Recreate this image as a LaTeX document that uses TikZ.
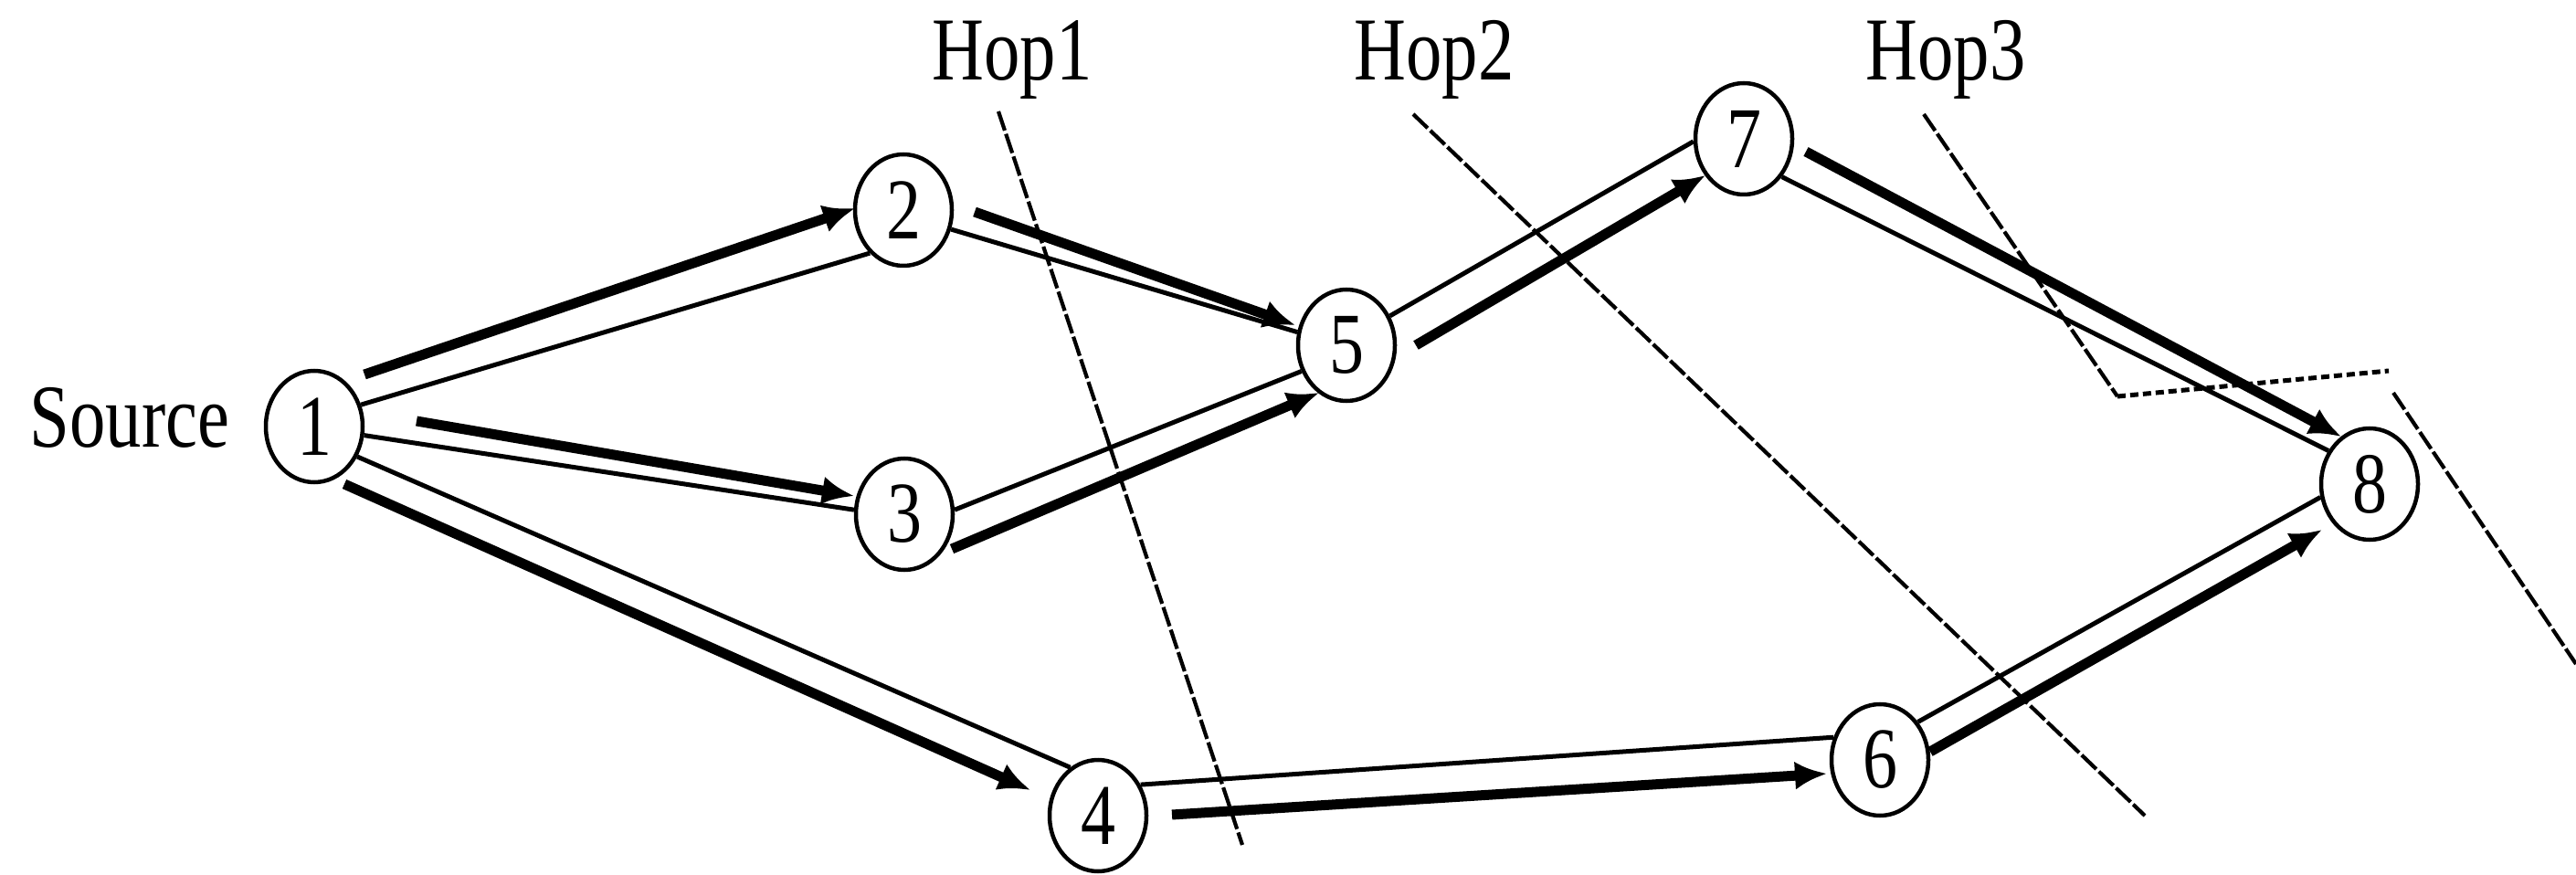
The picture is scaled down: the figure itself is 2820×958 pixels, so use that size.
\documentclass[tikz,border=0pt]{standalone}
\usepackage{fontspec}
\setmainfont{Liberation Serif}[FakeStretch=0.8]
\usetikzlibrary{arrows.meta,shapes.geometric}
\tikzset{
  vtx/.style={ellipse, draw, line width=0.45mm, minimum width=10.6mm, minimum height=12.2mm, inner sep=0pt, font=\fontsize{27}{30}\selectfont},
  lbl/.style={inner sep=0pt, font=\fontsize{28}{32}\selectfont},
  link/.style={line width=0.5mm},
  flowarrow/.style={line width=1.1mm, -{Latex[length=3.5mm,width=3.1mm]}},
  hopline/.style={line width=0.42mm, dash pattern=on 2.2mm off 0.4mm},
  hopdash/.style={line width=0.5mm, dash pattern=on 0.9mm off 0.5mm}
}
\begin{document}
\begin{tikzpicture}[x=0.1mm,y=-0.1mm]
\useasboundingbox (0,0) rectangle (2820,958);
% vertices
\node[vtx] (n1) at (344,467) {1};
\node[vtx] (n2) at (989,230) {2};
\node[vtx] (n3) at (990,563) {3};
\node[vtx] (n4) at (1202,893) {4};
\node[vtx] (n5) at (1474,378) {5};
\node[vtx] (n6) at (2058,832) {6};
\node[vtx] (n7) at (1909,152) {7};
\node[vtx] (n8) at (2594,530) {8};
% labels
\node[lbl, anchor=base east] (src) at (252,490) {Source};
\node[lbl, anchor=base] (hop1) at (1108,88) {Hop1};
\node[lbl, anchor=base] (hop2) at (1570,88) {Hop2};
\node[lbl, anchor=base] (hop3) at (2130,88) {Hop3};
% hop boundaries
\coordinate (h1a) at (1093,122);
\coordinate (h1b) at (1360,925);
\coordinate (h2a) at (1547,125);
\coordinate (h2b) at (2348,893);
\coordinate (h3a) at (2106,125);
\coordinate (h3c) at (2318,434);
\coordinate (h3d) at (2615,406);
\coordinate (h3e) at (2620,430);
\coordinate (h3f) at (2820,727);
\draw[hopline] (h1a) -- (h1b);
\draw[hopline] (h2a) -- (h2b);
\draw[hopline] (h3a) -- (h3c);
\draw[hopdash] (h3c) -- (h3d);
\draw[hopline] (h3e) -- (h3f);
% links
\draw[link] (n1.25) -- (n2.232);
\draw[link] (n1.-10) -- (n3.175);
\draw[link] (n1.-35) -- (n4.120);
\draw[link] (n2.-22) -- (n5.165);
\draw[link] (n3.5) -- (n5.210);
\draw[link] (n5.34) -- (n7.183);
\draw[link] (n7.-45) -- (n8.141);
\draw[link] (n4.36) -- (n6.154);
\draw[link] (n6.45) -- (n8.195);
% flows
\draw[flowarrow] ([shift={(55,-57)}]n1.center) -- ([shift={(-53,-2)}]n2.center);
\draw[flowarrow] ([shift={(112,-6)}]n1.center) -- ([shift={(-55,-20)}]n3.center);
\draw[flowarrow] ([shift={(33,63)}]n1.center) -- ([shift={(-74,-28)}]n4.center);
\draw[flowarrow] ([shift={(78,2)}]n2.center) -- ([shift={(-56,-22)}]n5.center);
\draw[flowarrow] ([shift={(52,38)}]n3.center) -- ([shift={(-30,52)}]n5.center);
\draw[flowarrow] ([shift={(76,0)}]n5.center) -- ([shift={(-42,40)}]n7.center);
\draw[flowarrow] ([shift={(68,14)}]n7.center) -- ([shift={(-31,-52)}]n8.center);
\draw[flowarrow] ([shift={(81,-1)}]n4.center) -- ([shift={(-58,15)}]n6.center);
\draw[flowarrow] ([shift={(55,-9)}]n6.center) -- ([shift={(-52,50)}]n8.center);
\end{tikzpicture}
\end{document}
